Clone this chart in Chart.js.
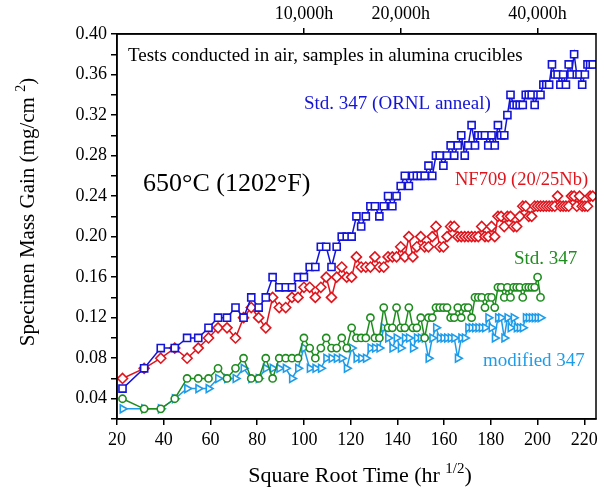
<!DOCTYPE html>
<html>
<head>
<meta charset="utf-8">
<script src="https://cdn.jsdelivr.net/npm/chart.js@4.4.1/dist/chart.umd.min.js"></script>
<style>
  html, body { margin: 0; padding: 0; background: #fff; }
  #wrap { width: 604px; height: 496px; }
</style>
</head>
<body>
<div id="wrap"><canvas id="massGainChart" width="604" height="496"></canvas></div>
<script>
// square root of exposure time (hr^1/2), one entry per 500 h test interval
var sqrtTime = [22.36, 31.62, 38.73, 44.72, 50.00, 54.77, 59.16, 63.25, 67.08, 70.71,
    74.16, 77.46, 80.62, 83.67, 86.60, 89.44, 92.20, 94.87, 97.47, 100.00,
    102.47, 104.88, 107.24, 109.54, 111.80, 114.02, 116.19, 118.32, 120.42, 122.47,
    124.50, 126.49, 128.45, 130.38, 132.29, 134.16, 136.01, 137.84, 139.64, 141.42,
    143.18, 144.91, 146.63, 148.32, 150.00, 151.66, 153.30, 154.92, 156.52, 158.11,
    159.69, 161.25, 162.79, 164.32, 165.83, 167.33, 168.82, 170.29, 171.76, 173.21,
    174.64, 176.07, 177.48, 178.89, 180.28, 181.66, 183.03, 184.39, 185.74, 187.08,
    188.41, 189.74, 191.05, 192.35, 193.65, 194.94, 196.21, 197.48, 198.75, 200.00,
    201.25, 202.48, 203.72, 204.94, 206.16, 207.36, 208.57, 209.76, 210.95, 212.13,
    213.31, 214.48, 215.64, 216.79, 217.94, 219.09, 220.23, 221.36, 222.49, 223.61];

// specimen mass gain, mg/cm2
var std347Ornl = [0.05, 0.07, 0.09, 0.09, 0.10, 0.10, 0.11, 0.12, 0.12, 0.13,
    0.12, 0.14, 0.13, 0.14, 0.16, 0.15, 0.15, 0.15, 0.16, 0.16,
    0.17, 0.17, 0.19, 0.19, 0.17, 0.19, 0.20, 0.20, 0.20, 0.22,
    0.21, 0.22, 0.23, 0.23, 0.22, 0.23, 0.24, 0.23, 0.24, 0.25,
    0.26, 0.25, 0.26, 0.26, 0.26, 0.26, 0.27, 0.26, 0.28, 0.28,
    0.27, 0.28, 0.29, 0.28, 0.29, 0.30, 0.28, 0.29, 0.31, 0.29,
    0.30, 0.30, 0.30, 0.29, 0.30, 0.29, 0.31, 0.30, 0.30, 0.32,
    0.34, 0.33, 0.33, 0.33, 0.33, 0.34, 0.34, 0.34, 0.33, 0.34,
    0.34, 0.35, 0.35, 0.35, 0.37, 0.36, 0.36, 0.35, 0.36, 0.35,
    0.37, 0.36, 0.38, 0.36, 0.36, 0.35, 0.36, 0.37, 0.37, 0.37];

var nf709 = [0.06, 0.07, 0.08, 0.09, 0.08, 0.09, 0.10, 0.11, 0.11, 0.10,
    0.12, 0.13, 0.12, 0.11, 0.14, 0.13, 0.13, 0.14, 0.14, 0.15,
    0.15, 0.14, 0.15, 0.16, 0.14, 0.16, 0.17, 0.16, 0.16, 0.18,
    0.17, 0.17, 0.17, 0.18, 0.17, 0.17, 0.18, 0.18, 0.18, 0.19,
    0.18, 0.20, 0.18, 0.19, 0.20, 0.19, 0.19, 0.20, 0.21, 0.19,
    0.19, 0.20, 0.21, 0.21, 0.20, 0.20, 0.20, 0.20, 0.20, 0.20,
    0.20, 0.21, 0.20, 0.20, 0.21, 0.20, 0.22, 0.22, 0.21, 0.22,
    0.22, 0.21, 0.21, 0.22, 0.23, 0.23, 0.22, 0.22, 0.23, 0.23,
    0.23, 0.23, 0.23, 0.23, 0.23, 0.23, 0.24, 0.23, 0.23, 0.23,
    0.23, 0.24, 0.24, 0.23, 0.24, 0.23, 0.23, 0.23, 0.24, 0.24];

var std347 = [0.04, 0.03, 0.03, 0.04, 0.06, 0.06, 0.06, 0.07, 0.06, 0.07,
    0.08, 0.06, 0.06, 0.08, 0.06, 0.08, 0.08, 0.08, 0.08, 0.10,
    0.09, 0.08, 0.09, 0.10, 0.09, 0.09, 0.10, 0.09, 0.11, 0.10,
    0.10, 0.10, 0.12, 0.10, 0.10, 0.13, 0.11, 0.11, 0.13, 0.11,
    0.11, 0.13, 0.11, 0.11, 0.12, 0.10, 0.12, 0.12, 0.13, 0.13,
    0.13, 0.13, 0.12, 0.12, 0.13, 0.12, 0.13, 0.13, 0.12, 0.14,
    0.14, 0.14, 0.13, 0.14, 0.14, 0.13, 0.15, 0.15, 0.14, 0.15,
    0.14, 0.15, 0.15, 0.15, 0.14, 0.15, 0.15, 0.15, 0.15, 0.16,
    0.14];

var modified347 = [0.03, 0.03, 0.03, 0.04, 0.05, 0.05, 0.05, 0.06, 0.06, 0.06,
    0.07, 0.06, 0.06, 0.07, 0.07, 0.07, 0.07, 0.06, 0.07, 0.09,
    0.07, 0.07, 0.07, 0.08, 0.08, 0.08, 0.08, 0.07, 0.09, 0.08,
    0.08, 0.08, 0.09, 0.09, 0.09, 0.11, 0.10, 0.09, 0.10, 0.09,
    0.10, 0.10, 0.09, 0.10, 0.10, 0.10, 0.08, 0.10, 0.11, 0.10,
    0.10, 0.10, 0.10, 0.10, 0.08, 0.10, 0.10, 0.11, 0.11, 0.11,
    0.11, 0.11, 0.11, 0.12, 0.11, 0.10, 0.12, 0.12, 0.10, 0.12,
    0.11, 0.12, 0.11, 0.11, 0.11, 0.12, 0.12, 0.12, 0.12, 0.12,
    0.12];

var xTicks = [20, 40, 60, 80, 100, 120, 140, 160, 180, 200, 220];
var hourTicks = [100, 141.42, 200];
var hourLabels = ['10,000h', '20,000h', '40,000h'];

var BLUE = '#1414d8', RED = '#e0141c', GREEN = '#1e8c1e', CYAN = '#1c9cea';
var SERIF = '"Liberation Serif", "Times New Roman", serif';

function pairs(ys) {
    return ys.map(function (y, i) { return { x: sqrtTime[i], y: y }; });
}

function series(label, ys, color, style, radius, rotation) {
    return {
        label: label,
        data: pairs(ys),
        borderColor: color,
        borderWidth: 1.5,
        pointStyle: style,
        pointRadius: radius,
        pointRotation: rotation || 0,
        pointBorderColor: color,
        pointBackgroundColor: '#fff',
        pointBorderWidth: 1.6,
        fill: false,
        tension: 0
    };
}

// text with a raised part, e.g. (hr 1/2)
function drawParts(ctx, parts, size, cx, cy) {
    var small = Math.round(size * 0.68);
    var total = 0;
    parts.forEach(function (p) {
        ctx.font = (p.sup ? small : size) + 'px ' + SERIF;
        p.w = ctx.measureText(p.t).width;
        total += p.w;
    });
    var x = cx - total / 2;
    ctx.textBaseline = 'middle';
    ctx.textAlign = 'left';
    parts.forEach(function (p) {
        ctx.font = (p.sup ? small : size) + 'px ' + SERIF;
        ctx.fillText(p.t, x, p.sup ? cy - size * 0.32 : cy);
        x += p.w;
    });
}

var decor = {
    id: 'decor',
    afterDraw: function (chart) {
        var ctx = chart.ctx, a = chart.chartArea;
        ctx.save();
        ctx.strokeStyle = '#000';
        ctx.lineWidth = 1.5;
        ctx.strokeRect(a.left, a.top, a.right - a.left, a.bottom - a.top);

        ctx.fillStyle = '#000';
        drawParts(ctx, [{ t: 'Square Root Time (hr ' }, { t: '1/2', sup: true }, { t: ')' }], 22, 360, 476);

        ctx.save();
        ctx.translate(28, 212);
        ctx.rotate(-Math.PI / 2);
        drawParts(ctx, [{ t: 'Specimen Mass Gain (mg/cm ' }, { t: '2', sup: true }, { t: ')' }], 21, 0, 0);
        ctx.restore();

        ctx.textAlign = 'left';
        ctx.textBaseline = 'middle';
        ctx.font = '19px ' + SERIF;
        ctx.fillText('Tests conducted in air, samples in alumina crucibles', 128, 56);
        ctx.font = '26px ' + SERIF;
        ctx.fillText('650\u00B0C (1202\u00B0F)', 143, 184);

        ctx.font = '19px ' + SERIF;
        ctx.fillStyle = BLUE;
        ctx.fillText('Std. 347 (ORNL anneal)', 304, 104);
        ctx.font = '18.5px ' + SERIF;
        ctx.fillStyle = RED;
        ctx.fillText('NF709 (20/25Nb)', 455, 180);
        ctx.font = '19px ' + SERIF;
        ctx.fillStyle = GREEN;
        ctx.fillText('Std. 347', 514, 259);
        ctx.fillStyle = CYAN;
        ctx.fillText('modified 347', 483, 361);
        ctx.restore();
    }
};

var axisGrid = {
    display: true,
    drawOnChartArea: false,
    drawTicks: true,
    tickLength: 6,
    color: '#000',
    lineWidth: 1.5
};

document.addEventListener('DOMContentLoaded', function () {
    var ctx = document.getElementById('massGainChart').getContext('2d');
    var massGainChart = new Chart(ctx, {
        type: 'line',
        data: {
            datasets: [
                series('Std. 347 (ORNL anneal)', std347Ornl, BLUE, 'rect', 5),
                series('NF709 (20/25Nb)', nf709, RED, 'rectRot', 5),
                series('Std. 347', std347, GREEN, 'circle', 3.6),
                series('modified 347', modified347, CYAN, 'triangle', 4.5, 90)
            ]
        },
        options: {
            responsive: false,
            animation: false,
            devicePixelRatio: 1,
            layout: { padding: { left: 0, right: 8, top: 0, bottom: 0 } },
            plugins: {
                legend: { display: false },
                tooltip: { enabled: false }
            },
            scales: {
                x: {
                    type: 'linear',
                    position: 'bottom',
                    min: 20,
                    max: 225,
                    grid: axisGrid,
                    border: { display: true, color: '#000', width: 1.5 },
                    afterBuildTicks: function (scale) {
                        scale.ticks = xTicks.map(function (v) { return { value: v }; });
                    },
                    ticks: {
                        color: '#000',
                        font: { family: SERIF, size: 18 },
                        padding: 4,
                        maxRotation: 0,
                        autoSkip: false,
                        callback: function (v) { return String(v); }
                    },
                    afterFit: function (scale) { scale.height = 77; }
                },
                xTop: {
                    type: 'linear',
                    position: 'top',
                    min: 20,
                    max: 225,
                    grid: axisGrid,
                    border: { display: true, color: '#000', width: 1.5 },
                    afterBuildTicks: function (scale) {
                        scale.ticks = hourTicks.map(function (v) { return { value: v }; });
                    },
                    ticks: {
                        color: '#000',
                        font: { family: SERIF, size: 18 },
                        padding: 3,
                        maxRotation: 0,
                        autoSkip: false,
                        callback: function (v) {
                            var i = hourTicks.indexOf(v);
                            return i >= 0 ? hourLabels[i] : '';
                        }
                    },
                    afterFit: function (scale) { scale.height = 34; }
                },
                y: {
                    type: 'linear',
                    position: 'left',
                    min: 0.02,
                    max: 0.40,
                    grid: axisGrid,
                    border: { display: true, color: '#000', width: 1.5 },
                    ticks: {
                        stepSize: 0.02,
                        autoSkip: false,
                        color: '#000',
                        font: { family: SERIF, size: 18 },
                        padding: 4,
                        callback: function (v) {
                            var h = Math.round(v * 100);
                            return h % 4 === 0 ? (h / 100).toFixed(2) : '';
                        }
                    },
                    afterFit: function (scale) { scale.width = 117; }
                }
            }
        },
        plugins: [decor]
    });
});
</script>
</body>
</html>
